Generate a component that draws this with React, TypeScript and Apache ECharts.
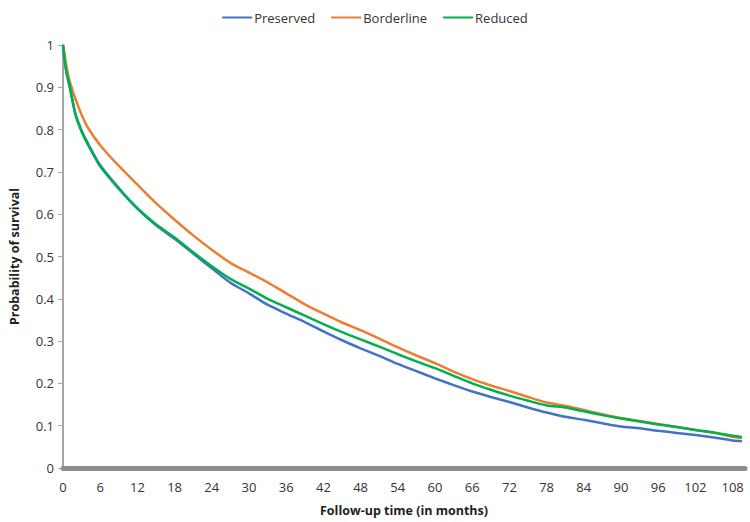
import React, { useEffect, useRef } from "react";
import * as echarts from "echarts";

const months = [0, 0.5, 1, 2, 3, 4, 6, 9, 12, 15, 18, 21, 24, 27, 30, 33, 36, 39, 42, 45, 48, 51, 54, 57, 60, 63, 66, 69, 72, 75, 78, 81, 84, 87, 90, 93, 96, 99, 102, 105, 108, 109.5];

const preserved = [1.0, 0.94, 0.905, 0.838, 0.798, 0.768, 0.716, 0.662, 0.613, 0.574, 0.542, 0.507, 0.472, 0.438, 0.413, 0.386, 0.365, 0.345, 0.323, 0.302, 0.283, 0.265, 0.246, 0.229, 0.212, 0.196, 0.181, 0.168, 0.156, 0.143, 0.131, 0.121, 0.114, 0.106, 0.098, 0.094, 0.088, 0.083, 0.078, 0.072, 0.065, 0.063];

const borderline = [1.0, 0.955, 0.918, 0.873, 0.835, 0.805, 0.763, 0.714, 0.67, 0.626, 0.587, 0.55, 0.516, 0.485, 0.462, 0.439, 0.413, 0.387, 0.365, 0.344, 0.326, 0.306, 0.285, 0.266, 0.248, 0.228, 0.21, 0.195, 0.182, 0.168, 0.155, 0.147, 0.137, 0.127, 0.118, 0.111, 0.104, 0.097, 0.09, 0.083, 0.074, 0.071];

const reduced = [1.0, 0.94, 0.91, 0.835, 0.795, 0.765, 0.713, 0.66, 0.614, 0.576, 0.545, 0.51, 0.477, 0.447, 0.424, 0.4, 0.38, 0.36, 0.34, 0.321, 0.304, 0.287, 0.269, 0.252, 0.236, 0.218, 0.2, 0.185, 0.171, 0.159, 0.148, 0.143, 0.134, 0.125, 0.117, 0.11, 0.103, 0.097, 0.09, 0.084, 0.076, 0.073];

const seriesNames = ["Preserved", "Borderline", "Reduced"];
const seriesColors = ["#4472C4", "#ED7D31", "#00B050"];
const seriesValues = [preserved, borderline, reduced];

const xTitle = "Follow-up time (in months)";
const yTitle = "Probability of survival";

export default function App() {
  const ref = useRef<HTMLDivElement>(null);

  useEffect(() => {
    if (!ref.current) return;
    const chart = echarts.init(ref.current, undefined, { renderer: "svg" });
    const font = "'Open Sans', 'DejaVu Sans', sans-serif";
    chart.setOption({
      animation: false,
      backgroundColor: "#ffffff",
      textStyle: { fontFamily: font },
      legend: {
        top: 6,
        left: "center",
        icon: "rect",
        itemWidth: 30,
        itemHeight: 2,
        itemGap: 16,
        textStyle: { fontFamily: font, fontSize: 13, color: "#333", padding: [0, 0, 0, -3] },
        data: seriesNames,
      },
      grid: { left: 58, right: 5, top: 45, bottom: 51, containLabel: false },
      xAxis: {
        type: "value",
        min: 0,
        max: 110,
        interval: 6,
        name: xTitle,
        nameLocation: "middle",
        nameGap: 36,
        nameTextStyle: { fontFamily: font, fontSize: 12.5, fontWeight: "bold", color: "#222" },
        axisLine: { show: true, onZero: false, lineStyle: { color: "#8c8c8c", width: 5 } },
        axisTick: { show: false },
        splitLine: { show: false },
        axisLabel: {
          margin: 12,
          fontFamily: font,
          fontSize: 13,
          color: "#333",
          formatter: (v: number) => (v % 6 === 0 ? String(v) : ""),
        },
      },
      yAxis: {
        type: "value",
        min: 0,
        max: 1,
        interval: 0.1,
        name: yTitle,
        nameLocation: "middle",
        nameGap: 42,
        nameTextStyle: { fontFamily: font, fontSize: 12.5, fontWeight: "bold", color: "#222" },
        axisLine: { show: true, lineStyle: { color: "#a6a6a6", width: 2 } },
        axisTick: { show: true, length: 5, lineStyle: { color: "#a6a6a6", width: 1 } },
        splitLine: { show: false },
        axisLabel: { margin: 9, fontFamily: font, fontSize: 13, color: "#333" },
      },
      series: seriesNames.map((name, i) => ({
        name,
        type: "line",
        symbol: "none",
        smooth: 0.25,
        color: seriesColors[i],
        lineStyle: { width: 2.5, color: seriesColors[i] },
        data: months.map((m, j) => [m, seriesValues[i][j]]),
      })),
    });
    return () => chart.dispose();
  }, []);

  return (
    <div
      ref={ref}
      style={{ position: "fixed", left: 0, top: 0, width: 750, height: 522 }}
    />
  );
}
